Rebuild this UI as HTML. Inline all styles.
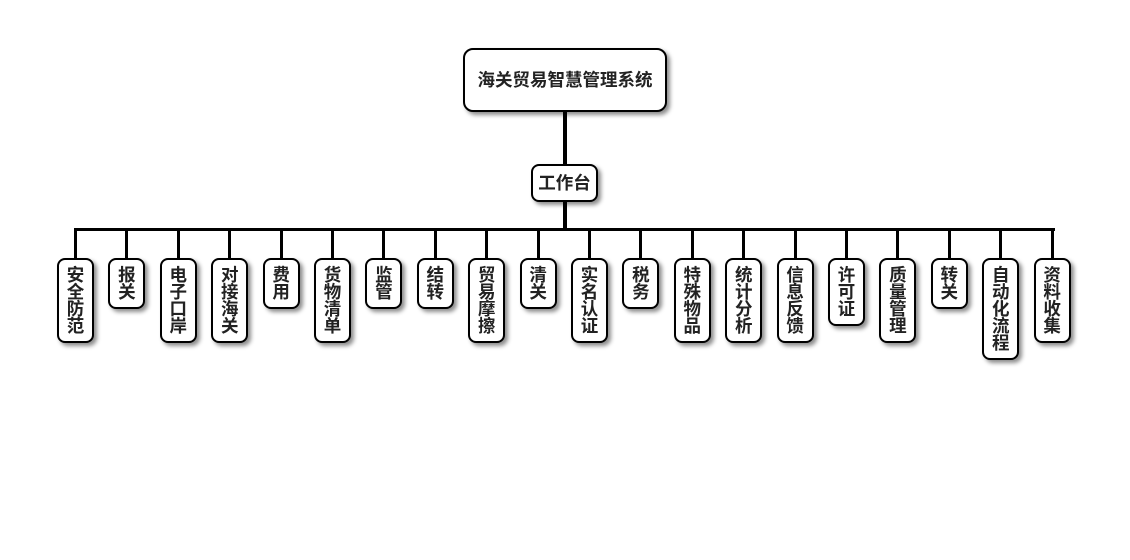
<!DOCTYPE html>
<html><head><meta charset="utf-8">
<style>
html,body{margin:0;padding:0;background:#fff;}
body{width:1130px;height:560px;position:relative;overflow:hidden;font-family:"Liberation Sans","Noto Sans CJK SC",sans-serif;}
.ln{position:absolute;background:#000;}
.box{position:absolute;box-sizing:border-box;border:2px solid #000;background:#fff;border-radius:8px;box-shadow:3px 3px 4px rgba(0,0,0,0.45);color:#222;font-weight:bold;text-align:center;}
.v{width:37px;top:258px;font-size:17.5px;line-height:17px;padding-top:7px;}
.v span{display:block;}
</style></head><body>
<div class="ln" style="left:563px;top:110px;width:4px;height:56px;"></div>
<div class="ln" style="left:563px;top:200px;width:4px;height:30px;"></div>
<div class="ln" style="left:74px;top:228px;width:981px;height:3px;"></div>

<div class="box" style="left:463px;top:48px;width:204px;height:64px;border-radius:10px;font-size:17.5px;line-height:60px;">海关贸易智慧管理系统</div>
<div class="box" style="left:531px;top:164px;width:67px;height:38px;font-size:17.5px;line-height:34px;">工作台</div>

<div id="kids"></div>
<script>
var items=["安全防范","报关","电子口岸","对接海关","费用","货物清单","监管","结转","贸易摩擦","清关","实名认证","税务","特殊物品","统计分析","信息反馈","许可证","质量管理","转关","自动化流程","资料收集"];
var h="";
for(var i=0;i<items.length;i++){
 var c=75.5+51.4*i;
 var n=items[i].length;
 h+='<div class="ln" style="left:'+(c-1.5).toFixed(1)+'px;top:229px;width:3px;height:30px;"></div>';
 var s="";for(var j=0;j<n;j++)s+="<span>"+items[i][j]+"</span>";
 h+='<div class="box v" style="left:'+(c-18.5).toFixed(1)+'px;height:'+(n*17+17)+'px;">'+s+'</div>';
}
document.getElementById("kids").innerHTML=h;
</script>
</body></html>
